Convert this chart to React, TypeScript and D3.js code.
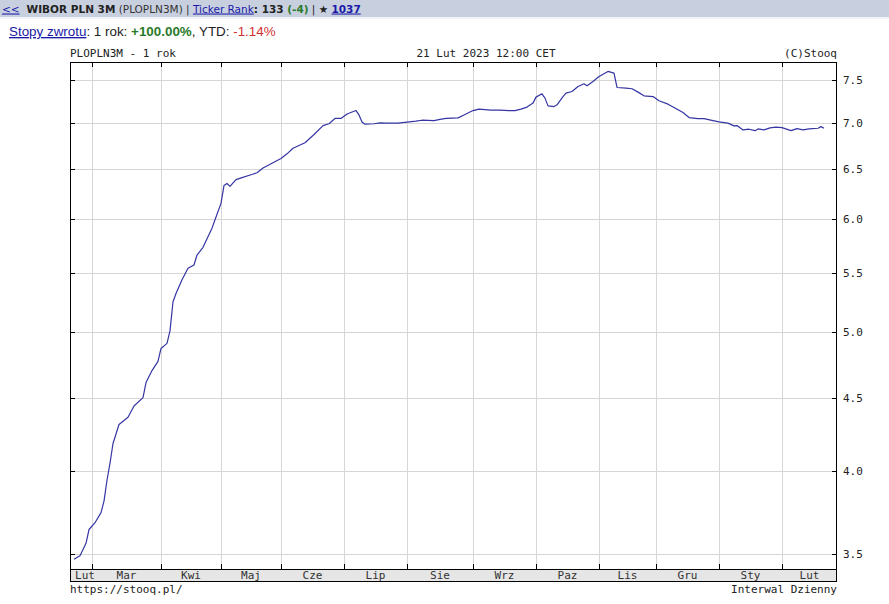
import React from "react";
import * as d3 from "d3";

// trading-day index (0 = 21 Feb 2022, 250 = 21 Feb 2023) and WIBOR 3M rate
const day = [0,2,4,5,7,9,10,11,12,13,15,18,20,23,24,26,28,29,31,32,33,34,36,38,40,41,43,46,47,49,50,51,52,54,56,59,61,63,66,69,71,73,77,80,83,85,87,89,91,94,95,96,97,100,102,104,108,111,114,116,120,122,124,128,130,133,135,137,139,142,145,147,149,151,153,154,156,157,158,160,161,163,164,166,168,170,171,173,175,178,180,181,184,186,188,190,193,195,198,200,203,205,208,210,213,215,218,220,221,223,225,227,228,230,232,234,236,239,241,243,245,248,249,250];
const rate = [3.47,3.49,3.56,3.64,3.68,3.74,3.81,3.94,4.05,4.18,4.31,4.36,4.44,4.50,4.61,4.70,4.77,4.87,4.91,5.01,5.25,5.32,5.44,5.54,5.57,5.66,5.73,5.91,5.99,6.15,6.33,6.35,6.32,6.39,6.41,6.44,6.46,6.51,6.56,6.61,6.66,6.72,6.78,6.87,6.97,6.99,7.05,7.05,7.10,7.14,7.09,7.01,6.985,6.99,7.00,6.997,6.997,7.008,7.02,7.03,7.026,7.04,7.05,7.057,7.09,7.14,7.156,7.15,7.144,7.144,7.139,7.139,7.156,7.18,7.226,7.296,7.335,7.284,7.194,7.186,7.206,7.303,7.344,7.362,7.422,7.454,7.43,7.482,7.542,7.604,7.584,7.41,7.403,7.395,7.355,7.311,7.303,7.253,7.214,7.175,7.117,7.06,7.049,7.049,7.026,7.011,6.997,6.966,6.97,6.921,6.929,6.913,6.932,6.921,6.944,6.952,6.947,6.913,6.936,6.921,6.932,6.94,6.958,6.94];

// first trading day of each month (index)
const monthStarts = [6,29,49,69,90,111,133,154,175,194,215,236];
const monthLabels = ["Lut","Mar","Kwi","Maj","Cze","Lip","Sie","Wrz","Paz","Lis","Gru","Sty","Lut"];
const yTicks = [3.5,4.0,4.5,5.0,5.5,6.0,6.5,7.0,7.5];

const W = 889, H = 604;
const L = 70, R = 837, T = 62, B = 569, BAND = 12;
const MONO = "'DejaVu Sans Mono', monospace";

export default function App() {
  const x = d3.scaleLinear().domain([0, 250]).range([74, 824]);
  const y = d3.scaleLog().domain([3.416, 7.72]).range([B, T]);
  const pts: [number, number][] = day.map((d, i) => [d, rate[i]]);
  const line = d3.line<[number, number]>().x(d => x(d[0])).y(d => y(d[1]));

  const bounds = [L, ...monthStarts.map(m => x(m)), R];
  const labelX = monthLabels.map((_, i) => {
    const c = (bounds[i] + bounds[i + 1]) / 2;
    return Math.max(c, L + 15);
  });

  return (
    <svg width={W} height={H} style={{ position: "absolute", left: 0, top: 0, display: "block", background: "#fff" }}>
      {/* header bar */}
      <rect x={0} y={0} width={W} height={17} fill="#c8d0e0" />
      <line x1={0} x2={W} y1={18} y2={18} stroke="#e4e8f0" />
      <text x={2} y={12.5} fontFamily="'DejaVu Sans', sans-serif" fontSize={10.5}>
        <tspan fill="#1a1aa6" textDecoration="underline">&lt;&lt;</tspan>
        <tspan dx={7} fontWeight="bold" fill="#222">WIBOR PLN 3M</tspan>
        <tspan fill="#333"> (PLOPLN3M) | </tspan>
        <tspan fill="#1a1aa6" textDecoration="underline">Ticker Rank</tspan>
        <tspan fill="#222" fontWeight="bold">: 133 </tspan>
        <tspan fill="#2a7a2a" fontWeight="bold">(-4)</tspan>
        <tspan fill="#222"> | </tspan>
        <tspan fill="#222">★ </tspan>
        <tspan fill="#1a1aa6" fontWeight="bold" textDecoration="underline">1037</tspan>
      </text>
      <text x={9} y={36} fontFamily="'Liberation Sans', Arial, sans-serif" fontSize={13.4}>
        <tspan fill="#1a1aa6" textDecoration="underline">Stopy zwrotu</tspan>
        <tspan fill="#222">: 1 rok: </tspan>
        <tspan fill="#2a7a2a" fontWeight="bold">+100.00%</tspan>
        <tspan fill="#222">, YTD: </tspan>
        <tspan fill="#d03030">-1.14%</tspan>
      </text>

      {/* chart titles */}
      <text x={L} y={57} fontFamily={MONO} fontSize={11} fill="#222">PLOPLN3M - 1 rok</text>
      <text x={486} y={57} fontFamily={MONO} fontSize={11} fill="#222" textAnchor="middle">21 Lut 2023 12:00 CET</text>
      <text x={R} y={57} fontFamily={MONO} fontSize={11} fill="#222" textAnchor="end">(C)Stooq</text>

      {/* grid */}
      {yTicks.map(v => (
        <line key={"gy" + v} x1={L} x2={R} y1={Math.round(y(v)) + 0.5} y2={Math.round(y(v)) + 0.5} stroke="#d6d6d6" />
      ))}
      {monthStarts.map(m => (
        <line key={"gx" + m} x1={Math.round(x(m)) + 0.5} x2={Math.round(x(m)) + 0.5} y1={T} y2={B} stroke="#d6d6d6" />
      ))}

      {/* ticks */}
      {yTicks.map(v => (
        <g key={"ty" + v}>
          <line x1={L} x2={L + 5} y1={Math.round(y(v)) + 0.5} y2={Math.round(y(v)) + 0.5} stroke="#000" />
          <line x1={R - 5} x2={R} y1={Math.round(y(v)) + 0.5} y2={Math.round(y(v)) + 0.5} stroke="#000" />
          <text x={R + 6} y={y(v) + 4} fontFamily={MONO} fontSize={11} fill="#222">{v.toFixed(1)}</text>
        </g>
      ))}
      {monthStarts.map(m => (
        <g key={"tx" + m}>
          <line x1={Math.round(x(m)) + 0.5} x2={Math.round(x(m)) + 0.5} y1={T} y2={T + 5} stroke="#000" />
          <line x1={Math.round(x(m)) + 0.5} x2={Math.round(x(m)) + 0.5} y1={B - 5} y2={B} stroke="#000" />
        </g>
      ))}

      {/* data line */}
      <path d={line(pts) || ""} fill="none" stroke="#3535a5" strokeWidth={1.2} strokeLinejoin="round" />

      {/* x band */}
      <rect x={L} y={B} width={R - L} height={BAND} fill="#e6e6e6" />
      {monthLabels.map((lab, i) => (
        <text key={"ml" + i} x={labelX[i]} y={B + 10} fontFamily={MONO} fontSize={11} fill="#333" textAnchor="middle">{lab}</text>
      ))}
      <line x1={L} x2={R} y1={B + 0.5} y2={B + 0.5} stroke="#000" />

      {/* frame */}
      <rect x={L + 0.5} y={T + 0.5} width={R - L - 1} height={B + BAND - T} fill="none" stroke="#000" />

      {/* footer */}
      <text x={L} y={593} fontFamily={MONO} fontSize={11} fill="#222">https://stooq.pl/</text>
      <text x={R} y={593} fontFamily={MONO} fontSize={11} fill="#222" textAnchor="end">Interwal Dzienny</text>
    </svg>
  );
}
